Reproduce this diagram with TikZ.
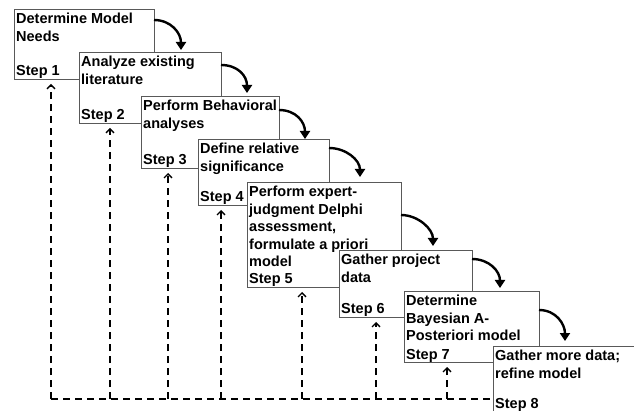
\documentclass[tikz,border=0pt]{standalone}
\usepackage{fontspec}
\setmainfont{Liberation Sans}
\usetikzlibrary{arrows.meta,calc}

\tikzset{
  stepbox/.style={draw=black!65, line width=0.9pt, fill=white, inner sep=0pt, outer sep=0pt, anchor=north west},
  boxtext/.style={font=\bfseries\fontsize{14.5}{17.5}\selectfont, inner sep=0pt, align=left},
  flow/.style={line width=2.4pt, -{Triangle[length=8pt,width=10pt]}},
  feedline/.style={line width=1.3pt, dash pattern=on 7pt off 5pt},
  feedback/.style={feedline, -{Straight Barb[length=4pt,width=8pt]}},
}

\begin{document}
\begin{tikzpicture}[x=1pt, y=-1pt]
    \clip (0,0) rectangle (634,411);

    % step boxes
    \foreach \n/\l/\t/\r/\b/\txt in {
        1/14/9/154/79/{Determine Model\\Needs},
        2/79/52/221/123/{Analyze existing\\literature},
        3/141/96/279/168/{Perform Behavioral\\analyses},
        4/198/139/329/205/{Define relative\\significance},
        5/247/182/401/287/{Perform expert-\\judgment Delphi\\assessment,\\formulate a priori\\model},
        6/339/250/472/317/{Gather project\\data},
        7/404/291/539/362/{Determine\\Bayesian A-\\Posteriori model},
        8/493/346/640/411.5/{Gather more data;\\refine model}}
    {
        \node[stepbox, minimum width={(\r-\l)*1pt}, minimum height={(\b-\t)*1pt}] (s\n) at (\l,\t) {};
        \node[boxtext, anchor=north west] (t\n) at ([shift={(2pt,-4pt)}]s\n.north west) {\txt};
        \node[boxtext, anchor=base west] (l\n) at ([shift={(2pt,3pt)}]s\n.south west) {Step \n};
    }

    % feedback lines
    \coordinate (fb) at (51,399);
    \draw[feedline] (fb) -- (fb -| s8.west);
    \foreach \i/\x in {1/51,2/110,3/168,4/221,5/302,6/376,7/447}{
        \coordinate (f\i) at (\x,399);
        \draw[feedback] (f\i) -- ($(f\i |- s\i.south)+(0,-5pt)$);
    }

    % curved arrows between steps
    \foreach \i/\j/\d/\e/\g in {1/2/11pt/27pt/2pt, 2/3/13pt/26pt/3pt, 3/4/14pt/26pt/0pt, 4/5/9pt/31pt/5pt,
                                5/6/33pt/32pt/4pt, 6/7/9pt/28pt/3pt, 7/8/19pt/26pt/5pt}
        \draw[flow] ([yshift=-\d]s\i.north east) .. controls +(17pt,0pt) and +(0pt,17pt) .. ($(s\i.east |- s\j.north)+(\e,\g)$);
\end{tikzpicture}
\end{document}
